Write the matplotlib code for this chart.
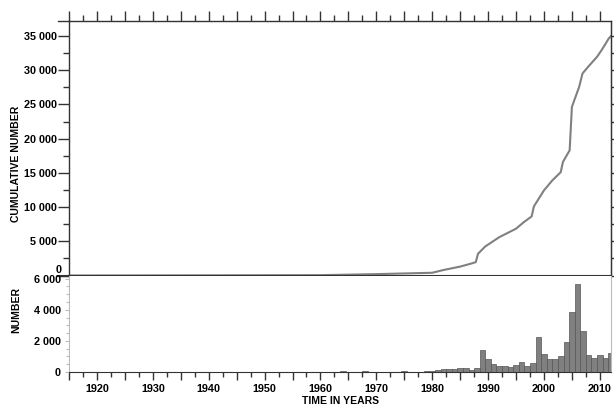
import numpy as np
import matplotlib
matplotlib.use("Agg")
import matplotlib.pyplot as plt
from matplotlib.ticker import MultipleLocator, FuncFormatter

plt.rcParams['font.family'] = ['Liberation Sans', 'DejaVu Sans']
plt.rcParams['font.weight'] = 'bold'

# courbe cumulative
years_cum = [1915, 1960, 1970, 1980, 1982, 1985, 1987, 1987.8, 1988.2, 1989.5, 1992,
             1995, 1996.4, 1997.8, 1998.2, 2000, 2001.5, 2003, 2003.4, 2004.6, 2005,
             2006.3, 2006.9, 2007.9, 2009.5, 2010.4, 2011.6, 2012]
cum = [0, 50, 200, 400, 800, 1300, 1750, 1950, 3180, 4250, 5600,
       6840, 7800, 8640, 10100, 12440, 13900, 15100, 16600, 18300, 24640,
       27570, 29530, 30500, 31960, 33040, 34650, 35000]

# nombre par an
years_bar = [1955, 1960, 1963, 1964, 1966, 1968, 1970, 1972, 1974, 1975, 1977, 1979,
             1980, 1981, 1982, 1983, 1984, 1985, 1986, 1987, 1988, 1989, 1990,
             1991, 1992, 1993, 1994, 1995, 1996, 1997, 1998, 1999, 2000, 2001,
             2002, 2003, 2004, 2005, 2006, 2007, 2008, 2009, 2010, 2011, 2012]
counts = [10, 20, 30, 45, 20, 70, 30, 20, 30, 40, 30, 40,
          60, 130, 210, 210, 190, 250, 250, 150, 230, 1420, 850,
          500, 390, 390, 330, 440, 650, 360, 560, 2250, 1170, 840,
          840, 1020, 1930, 3830, 5660, 2620, 1120, 910, 1120, 910, 1220]

fmt = FuncFormatter(lambda v, p: '{:,.0f}'.format(v).replace(',', ' '))
fmt_top = FuncFormatter(lambda v, p: '' if v == 0 else '{:,.0f}'.format(v).replace(',', ' '))
yr_fmt = FuncFormatter(lambda v, p: '%d' % v if round(v) % 10 == 0 else '')
dark = '#333333'
light = '#bbbbbb'
fs = 7.8

fig = plt.figure(figsize=(6.14, 4.07), dpi=100)
W, H = 614., 407.
ax1 = fig.add_axes([69/W, 1-275.5/H, (611-69)/W, (275.5-21)/H])
ax2 = fig.add_axes([69/W, 1-372/H, (611-69)/W, (372-275.5)/H], sharex=ax1)

# haut : cumul
ax1.plot(years_cum, cum, color='#808080', lw=1.5)
ax1.set_xlim(1915, 2012)
ax1.set_ylim(0, 37200)
ax1.yaxis.set_major_locator(MultipleLocator(5000))
ax1.yaxis.set_minor_locator(MultipleLocator(2500))
ax1.yaxis.set_major_formatter(fmt_top)
ax1.xaxis.set_major_locator(MultipleLocator(5))
ax1.xaxis.set_minor_locator(MultipleLocator(2.5))
ax1.tick_params(axis='y', which='major', length=8, width=1, color=dark, labelsize=fs, pad=1)
ax1.tick_params(axis='y', which='minor', length=4, width=1, color=dark)
ax1.tick_params(axis='x', which='major', top=True, bottom=False, labeltop=False,
                labelbottom=False, length=7, width=1, color=dark)
ax1.tick_params(axis='x', which='minor', top=True, bottom=False, length=4, width=1, color=dark)
for s in ax1.spines.values():
    s.set_color(dark)
    s.set_linewidth(1)
ax1.spines['bottom'].set_linewidth(1.5)
ax1.set_ylabel('CUMULATIVE NUMBER', fontsize=7.5, fontweight='bold')
ax1.yaxis.set_label_coords(-0.088, 0.44)
ax1.plot([-0.02, 0], [1, 1], transform=ax1.transAxes, color=dark, lw=1, clip_on=False)
ax1.plot([-0.02, 0], [0, 0], transform=ax1.transAxes, color=dark, lw=1.5, clip_on=False)
# le "0" du haut, juste au-dessus du "6 000"
ax1.annotate('0', xy=(0, 0), xycoords='axes fraction', xytext=(-5, 0.3),
             textcoords='offset points', ha='right', va='bottom', fontsize=fs)

sec = ax1.secondary_yaxis('right')
sec.yaxis.set_major_locator(MultipleLocator(2500))
sec.tick_params(length=2.5, width=1, color=dark, labelright=False)
sec.spines['right'].set_color(dark)

# bas : histogramme
ax2.bar(years_bar, counts, width=1, color='#808080', edgecolor='#555555', linewidth=0.5)
ax2.set_ylim(0, 6200)
ax2.yaxis.set_major_locator(MultipleLocator(2000))
ax2.yaxis.set_minor_locator(MultipleLocator(500))
ax2.yaxis.set_major_formatter(fmt)
ax2.xaxis.set_major_formatter(yr_fmt)
ax2.tick_params(axis='y', which='major', length=3, width=0.8, color=light, labelsize=fs, pad=3)
ax2.tick_params(axis='y', which='minor', length=2, width=0.8, color=light)
ax2.tick_params(axis='x', which='major', length=6, width=1, color=dark, labelsize=fs, pad=3)
ax2.tick_params(axis='x', which='minor', length=3.5, width=1, color=dark)
ax2.spines['top'].set_visible(False)
ax2.spines['left'].set_color(light)
ax2.spines['right'].set_color(light)
ax2.spines['bottom'].set_color(dark)
ax2.set_ylabel('NUMBER', fontsize=7.5, fontweight='bold')
ax2.yaxis.set_label_coords(-0.088, 0.64)
ax2.set_xlabel('TIME IN YEARS', fontsize=7.5, fontweight='bold', labelpad=1)

plt.savefig('out.png', dpi=100)
